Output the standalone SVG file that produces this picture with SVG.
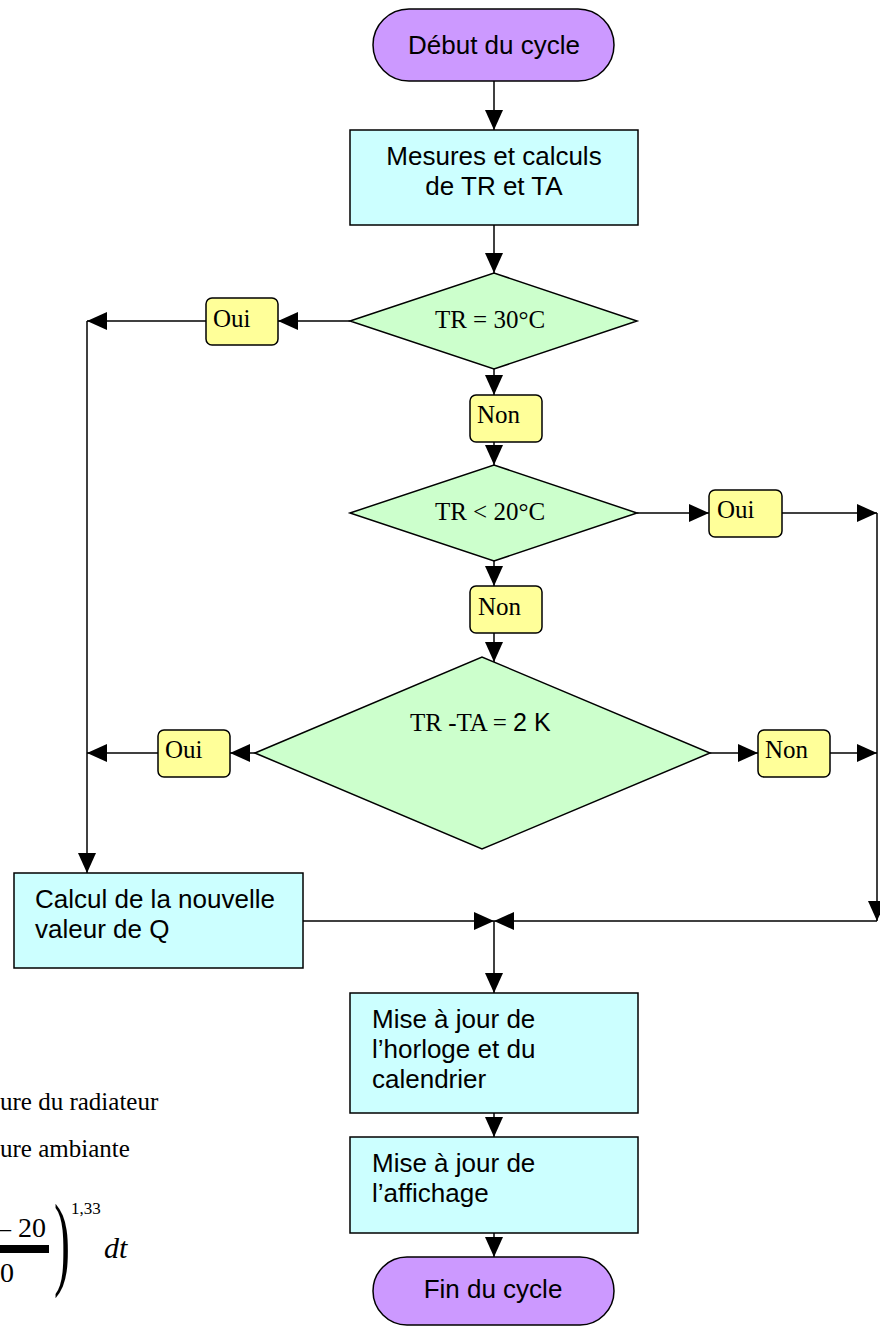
<svg xmlns="http://www.w3.org/2000/svg" width="880" height="1326" viewBox="0 0 880 1326">
<style>
.term{fill:#CC99FF;stroke:#000;stroke-width:1.5}
.proc{fill:#CCFFFF;stroke:#000;stroke-width:1.5}
.dec{fill:#CCFFCC;stroke:#000;stroke-width:1.5}
.lab{fill:#FFFF99;stroke:#000;stroke-width:1.5}
.sans{font-family:"Liberation Sans",Arial,sans-serif;font-size:26px;fill:#000}
.serif{font-family:"Liberation Serif","Times New Roman",serif;font-size:25px;fill:#000}
.mid{text-anchor:middle}
.conn path{fill:none;stroke:#000;stroke-width:1.5}
</style>
<defs>
<marker id="ah" viewBox="0 0 20 18" refX="20" refY="9" markerWidth="20" markerHeight="18" markerUnits="userSpaceOnUse" orient="auto">
<path d="M0,0 L20,9 L0,18 z" fill="#000"/>
</marker>
</defs>
<rect width="880" height="1326" fill="#fff"/>

<g class="conn">
<path d="M494,81 V130" marker-end="url(#ah)"/>
<path d="M494,225 V273" marker-end="url(#ah)"/>
<path d="M350,321 H278" marker-end="url(#ah)"/>
<path d="M206,321 H87" marker-end="url(#ah)"/>
<path d="M87,321 V873" marker-end="url(#ah)"/>
<path d="M494,369 V395" marker-end="url(#ah)"/>
<path d="M494,442 V465" marker-end="url(#ah)"/>
<path d="M637,513 H709" marker-end="url(#ah)"/>
<path d="M782,513 H877" marker-end="url(#ah)"/>
<path d="M877,513 V921" marker-end="url(#ah)"/>
<path d="M494,561 V586" marker-end="url(#ah)"/>
<path d="M494,633 V662" marker-end="url(#ah)"/>
<path d="M255,753 H230" marker-end="url(#ah)"/>
<path d="M158,753 H87" marker-end="url(#ah)"/>
<path d="M710,753 H758" marker-end="url(#ah)"/>
<path d="M830,753 H877" marker-end="url(#ah)"/>
<path d="M303,921 H494" marker-end="url(#ah)"/>
<path d="M877,921 H494" marker-end="url(#ah)"/>
<path d="M494,921 V993" marker-end="url(#ah)"/>
<path d="M494,1113 V1137" marker-end="url(#ah)"/>
<path d="M494,1233 V1257" marker-end="url(#ah)"/>
</g>

<g id="debut">
<rect class="term" x="373" y="9" width="241" height="72" rx="36"/>
<text class="sans mid" x="494" y="54">Début du cycle</text>
</g>
<g id="mesures">
<rect class="proc" x="350" y="130" width="288" height="95"/>
<text class="sans mid" x="494" y="165">Mesures et calculs</text>
<text class="sans mid" x="494" y="195">de TR et TA</text>
</g>
<g id="test30">
<polygon class="dec" points="350,321 494,273 637,321 494,369"/>
<text class="serif mid" x="490" y="328">TR = 30°C</text>
</g>
<g id="oui1">
<rect class="lab" x="206" y="298" width="72" height="47" rx="6"/>
<text class="serif" x="213" y="327">Oui</text>
</g>
<g id="non1">
<rect class="lab" x="470" y="395" width="72" height="47" rx="6"/>
<text class="serif" x="477" y="423">Non</text>
</g>
<g id="test20">
<polygon class="dec" points="350,513 494,465 637,513 494,561"/>
<text class="serif mid" x="490" y="520">TR &lt; 20°C</text>
</g>
<g id="oui2">
<rect class="lab" x="709" y="490" width="73" height="47" rx="6"/>
<text class="serif" x="717" y="518">Oui</text>
</g>
<g id="non2">
<rect class="lab" x="470" y="586" width="72" height="47" rx="6"/>
<text class="serif" x="478" y="615">Non</text>
</g>
<g id="test2k">
<polygon class="dec" points="255,753 482,657 710,753 482,849"/>
<text class="serif" x="410" y="731">TR -TA = <tspan style="font-family:'Liberation Sans',Arial,sans-serif">2 K</tspan></text>
</g>
<g id="oui3">
<rect class="lab" x="158" y="730" width="72" height="47" rx="6"/>
<text class="serif" x="165" y="758">Oui</text>
</g>
<g id="non3">
<rect class="lab" x="758" y="730" width="72" height="47" rx="6"/>
<text class="serif" x="765" y="758">Non</text>
</g>
<g id="calcul">
<rect class="proc" x="14" y="873" width="289" height="95"/>
<text class="sans" x="35" y="908">Calcul de la nouvelle</text>
<text class="sans" x="35" y="938">valeur de Q</text>
</g>
<g id="horloge">
<rect class="proc" x="350" y="993" width="288" height="120"/>
<text class="sans" x="372" y="1028">Mise à jour de</text>
<text class="sans" x="372" y="1058">l’horloge et du</text>
<text class="sans" x="372" y="1088">calendrier</text>
</g>
<g id="affichage">
<rect class="proc" x="350" y="1137" width="288" height="96"/>
<text class="sans" x="372" y="1172">Mise à jour de</text>
<text class="sans" x="372" y="1202">l’affichage</text>
</g>
<g id="fin">
<rect class="term" x="373" y="1257" width="241" height="68" rx="34"/>
<text class="sans mid" x="493" y="1298">Fin du cycle</text>
</g>

<g id="notes" font-family="'Liberation Serif','Times New Roman',serif" fill="#000">
<text x="0" y="1110" font-size="25">ure du radiateur</text>
<text x="0" y="1157" font-size="25">ure ambiante</text>
<text x="46" y="1237" font-size="28" text-anchor="end">– 20</text>
<rect x="0" y="1245" width="49" height="8" fill="#000"/>
<text x="14" y="1282" font-size="28" text-anchor="end">0</text>
<text transform="translate(54,1276) scale(1.2,2.6)" font-size="40">)</text>
<text x="71" y="1214" font-size="17">1,33</text>
<text x="104" y="1258" font-size="30" font-style="italic">dt</text>
</g>
</svg>
